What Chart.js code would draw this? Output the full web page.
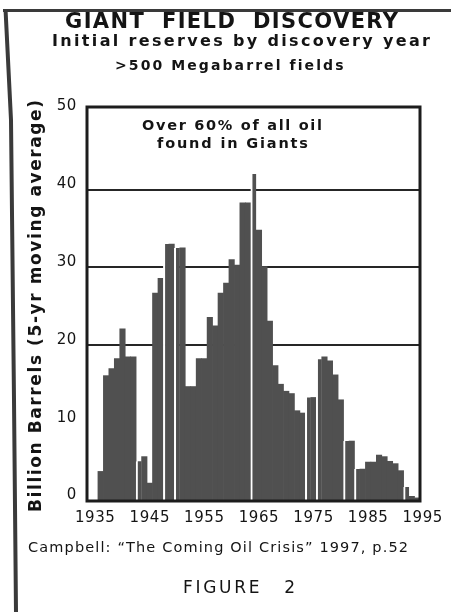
<!DOCTYPE html>
<html>
<head>
<meta charset="utf-8">
<script src="https://cdn.jsdelivr.net/npm/chart.js@4.4.1/dist/chart.umd.min.js"></script>
<style>
html,body{margin:0;padding:0;background:#fff;}
#wrap{position:relative;width:451px;height:612px;overflow:hidden;}
canvas{display:block;}
</style>
</head>
<body>
<div id="wrap"><canvas id="c" width="451" height="612"></canvas></div>
<script>
// ---- data ----
const years = [1936,1937,1938,1939,1940,1941,1942,1943,1944,1945,1946,1947,1948,1949,1950,
  1951,1952,1953,1954,1955,1956,1957,1958,1959,1960,1961,1962,1963,1964,1965,1966,1967,1968,
  1969,1970,1971,1972,1973,1974,1975,1976,1977,1978,1979,1980,1981,1982,1983,1984,1985,1986,
  1987,1988,1989,1990,1991,1992,1993,1994];
const reserves = [3.8,16.1,17.0,18.3,22.1,18.5,18.5,5.1,5.7,2.3,26.7,28.6,33.0,33.0,32.5,
  32.5,14.7,14.7,18.3,18.3,23.6,22.5,26.7,28.0,31.0,30.3,38.3,38.3,42.0,34.8,30.1,23.1,17.4,
  15.0,14.1,13.8,11.6,11.3,13.3,13.3,18.2,18.5,18.0,16.2,13.0,7.7,7.7,4.1,4.1,5.0,5.0,
  5.9,5.7,5.1,4.8,3.9,1.8,0.6,0.4];
const separatedYears = [1943,1948,1950,1964,1974,1976,1981,1983,1992];
const xTickYears = [1935,1945,1955,1965,1975,1985,1995];
const yTickValues = [0,10,20,30,40,50];
const gridValues = [20,30,40];

const titleText = 'GIANT FIELD DISCOVERY';
const subtitle1 = 'Initial reserves by discovery year';
const subtitle2 = '>500 Megabarrel fields';
const noteLines = ['Over 60% of all oil','found in Giants'];
const yTitle = 'Billion Barrels (5-yr moving average)';
const sourceText = 'Campbell: \u201CThe Coming Oil Crisis\u201D 1997, p.52';
const figureText = 'FIGURE 2';

const FAM = '"DejaVu Sans", Verdana, sans-serif';
const INK = '#141414';

function fitText(ctx, s, x, y, font, width, align, rot, ws) {
  ctx.save();
  ctx.font = font;
  ctx.letterSpacing = '0px';
  ctx.wordSpacing = '0px';
  const w = ctx.measureText(s).width;
  const nSpaces = (s.match(/ /g) || []).length;
  const extraWords = (ws || 0) * nSpaces;
  const ls = (width - w - extraWords) / Math.max(1, s.length - 1);
  ctx.letterSpacing = ls + 'px';
  ctx.wordSpacing = (ws || 0) + 'px';
  ctx.fillStyle = INK;
  ctx.textBaseline = 'alphabetic';
  ctx.textAlign = 'left';
  ctx.translate(x, y);
  if (rot) ctx.rotate(rot);
  let x0 = 0;
  if (align === 'center') x0 = -width / 2;
  ctx.fillText(s, x0, 0);
  ctx.restore();
}

const decor = {
  id: 'decor',
  beforeDraw(chart) {
    chart.ctx.letterSpacing = '0.6px';
  },
  afterDatasetsDraw(chart) {
    const {ctx, chartArea: a} = chart;
    ctx.save();
    ctx.strokeStyle = '#1c1c1c';
    ctx.lineWidth = 3;
    ctx.strokeRect(a.left, a.top, a.right - a.left, a.bottom - a.top);
    ctx.restore();
  },
  afterDraw(chart) {
    const ctx = chart.ctx;
    ctx.save();
    ctx.letterSpacing = '0px';
    ctx.strokeStyle = '#3a3a3a';
    ctx.lineWidth = 3;
    ctx.beginPath(); ctx.moveTo(3, 10.5); ctx.lineTo(451, 10.5); ctx.stroke();
    ctx.lineWidth = 4;
    ctx.beginPath(); ctx.moveTo(5.5, 9); ctx.lineTo(11, 120); ctx.lineTo(14, 400); ctx.lineTo(16, 612); ctx.stroke();
    ctx.restore();

    fitText(ctx, titleText, 231.5, 28, 'bold 21px ' + FAM, 333, 'center', 0, 8);
    fitText(ctx, subtitle1, 241, 46, 'bold 16px ' + FAM, 378, 'center');
    fitText(ctx, subtitle2, 229, 70, 'bold 14px ' + FAM, 228, 'center');
    fitText(ctx, noteLines[0], 232, 130, 'bold 14.5px ' + FAM, 180, 'center');
    fitText(ctx, noteLines[1], 232.5, 148, 'bold 14.5px ' + FAM, 151, 'center');
    fitText(ctx, yTitle, 41, 306, 'bold 17px ' + FAM, 412, 'center', -Math.PI / 2);
    fitText(ctx, sourceText, 28, 552, '14.5px ' + FAM, 380, 'left');
    fitText(ctx, figureText, 239, 593, '17px ' + FAM, 112, 'center', 0, 14);
  }
};

new Chart(document.getElementById('c'), {
  type: 'bar',
  data: {
    datasets: [{
      data: years.map((y, i) => ({x: y, y: reserves[i]})),
      backgroundColor: '#505050',
      borderColor: '#ffffff',
      borderWidth: (c) => (c.raw && separatedYears.includes(c.raw.x)) ? {left: 2, top: 0, right: 0, bottom: 0} : 0,
      borderSkipped: false,
      barPercentage: 1,
      categoryPercentage: 1
    }]
  },
  options: {
    responsive: false,
    animation: false,
    devicePixelRatio: 1,
    layout: {padding: {left: 10, top: 107, right: 31, bottom: 71}},
    plugins: {legend: {display: false}, tooltip: {enabled: false}, title: {display: false}},
    scales: {
      x: {
        type: 'linear', min: 1933.5, max: 1994.5, offset: false,
        afterBuildTicks: (s) => { s.ticks = xTickYears.map(v => ({value: v})); },
        afterFit: (s) => { s.height = 40; },
        grid: {display: false, drawTicks: false},
        border: {display: false},
        ticks: {padding: 8, maxRotation: 0, autoSkip: false, color: INK,
          font: {family: FAM, size: 15}, callback: (v) => String(v)}
      },
      y: {
        min: 0, max: 50.6,
        afterBuildTicks: (s) => { s.ticks = yTickValues.map(v => ({value: v})); },
        afterFit: (s) => { s.width = 77; },
        grid: {drawTicks: false, lineWidth: 2,
          color: (c) => (c.tick && gridValues.includes(c.tick.value)) ? '#262626' : 'rgba(0,0,0,0)'},
        border: {display: false},
        ticks: {padding: 10, labelOffset: -5.5, color: INK,
          font: {family: FAM, size: 15}, callback: (v) => String(v)}
      }
    }
  },
  plugins: [decor]
});
</script>
</body>
</html>
